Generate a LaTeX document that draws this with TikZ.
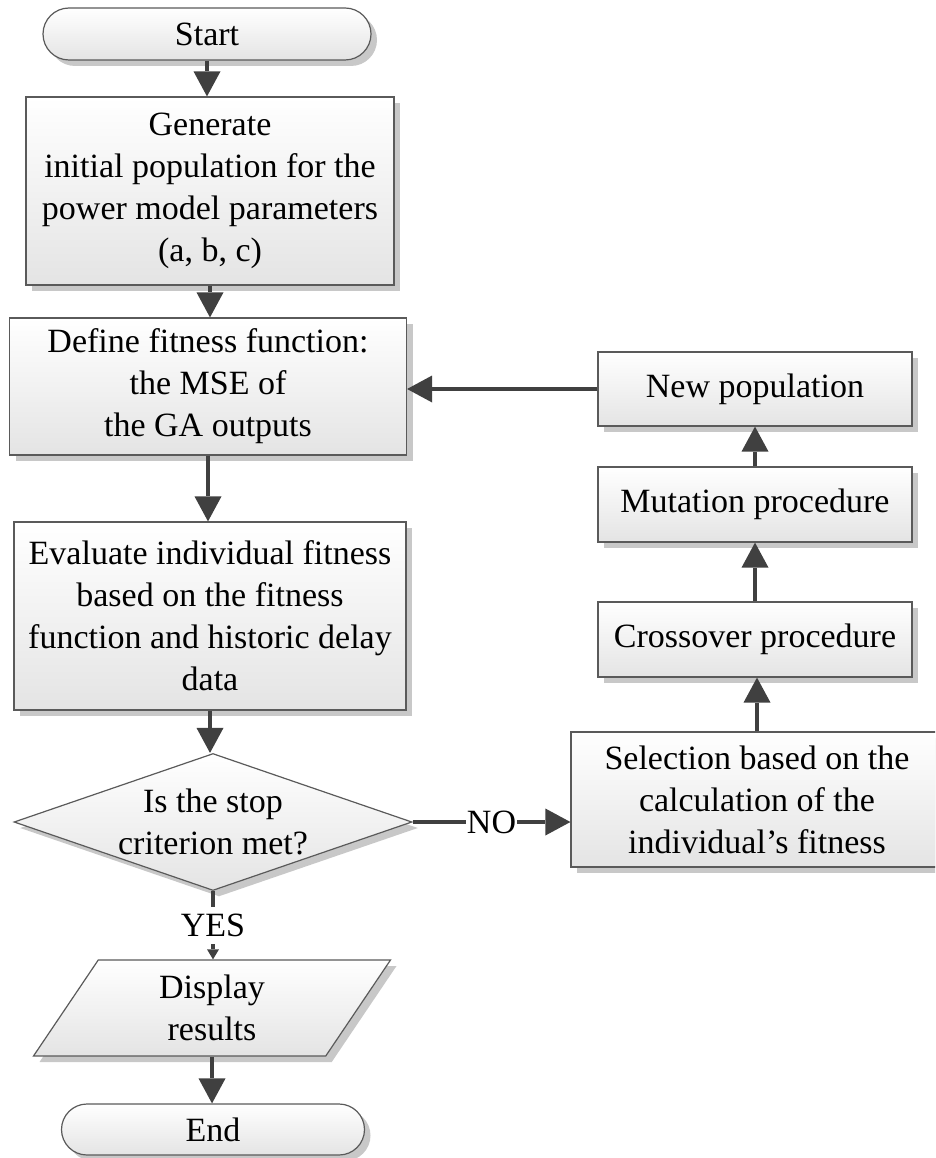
\documentclass[tikz,border=0pt]{standalone}
\usepackage{fontspec}
\setmainfont{Liberation Serif}
\usetikzlibrary{arrows.meta,shapes.geometric,shapes.misc,shadows}

\definecolor{edgegray}{HTML}{5A5A5A}
\definecolor{arrowgray}{HTML}{404040}
\definecolor{shadegray}{HTML}{E4E4E4}
\definecolor{shadowgray}{HTML}{C8C8C8}

\tikzset{
    base/.style={
        draw=edgegray,
        line width=1.2pt,
        top color=white,
        bottom color=shadegray,
        drop shadow={shadow xshift=6pt, shadow yshift=-6pt, fill=shadowgray, opacity=1},
        align=center,
        inner sep=3pt
    },
    process/.style={base, rectangle},
    terminal/.style={base, rounded rectangle, minimum height=52pt},
    decision/.style={base, diamond, aspect=2.9, inner sep=0pt},
    inout/.style={
        base,
        trapezium,
        trapezium left angle=48,
        trapezium right angle=132,
        trapezium stretches body
    },
    flow/.style={
        draw=arrowgray,
        line width=4.5pt,
        -{Triangle[length=25pt, width=27pt, line width=0pt]}
    },
    flowsmall/.style={
        draw=arrowgray,
        line width=4.5pt,
        -{Triangle[length=10pt, width=12pt, line width=0pt]}
    },
    answer/.style={fill=white, inner xsep=1pt, inner ysep=1pt},
    answerv/.style={fill=white, inner xsep=1pt, inner ysep=7pt}
}

\begin{document}
\begin{tikzpicture}[x=1pt, y=-1pt, font=\fontsize{34}{42}\selectfont]

\useasboundingbox (0,0) rectangle (935,1158);
\clip (0,0) rectangle (935,1158);

% Main column
\node[terminal, minimum width=334pt] (start) at (207,34) {Start};

\node[
    process,
    minimum width=368pt,
    minimum height=188pt
] (gen) at (210,191) {Generate\\initial population for the\\power model parameters\\(a, b, c)};

\node[
    process,
    minimum width=397pt,
    minimum height=137pt
] (def) at (208,386.5) {Define fitness function:\\the MSE of\\the GA outputs};

\node[
    process,
    minimum width=392pt,
    minimum height=188pt
] (eval) at (210,616) {Evaluate individual fitness\\based on the fitness\\function and historic delay\\data};

\node[
    decision,
    minimum width=398pt,
    minimum height=137pt
] (stop) at (213,822) {Is the stop\\criterion met?};

\node[
    inout,
    minimum width=357pt,
    minimum height=96pt
] (disp) at (212,1008) {Display\\results};

\node[terminal, minimum width=309pt, minimum height=51pt] (end) at (213,1129.5) {End};

% Loop column
\node[process, minimum width=314pt, minimum height=74pt] (newpop) at (755,389) {New population};
\node[process, minimum width=314pt, minimum height=75pt] (mut) at (755,504.5) {Mutation procedure};
\node[process, minimum width=314pt, minimum height=75pt] (cross) at (755,639.5) {Crossover procedure};

\node[
    process,
    minimum width=372pt,
    minimum height=135pt
] (sel) at (757,799.5) {Selection based on the\\calculation of the\\individual's fitness};

% Downward flow
\draw[flow] (start.south) -- (start.south |- gen.north);
\draw[flow] (gen.south) -- (gen.south |- def.north);
\draw[flow] (def.south) -- (def.south |- eval.north);
\draw[flow] (eval.south) -- (eval.south |- stop.north);
\draw[flowsmall] (stop.south) -- node[answerv] {YES} (stop.south |- disp.north);
\draw[flow] (disp.south) -- (disp.south |- end.north);

% Loop back
\draw[flow] (stop.east) -- node[answer] {NO} (stop.east -| sel.west);
\draw[flow] (sel.north) -- (sel.north |- cross.south);
\draw[flow] (cross.north) -- (cross.north |- mut.south);
\draw[flow] (mut.north) -- (mut.north |- newpop.south);
\draw[flow] (newpop.west) -- (newpop.west -| def.east);

\end{tikzpicture}
\end{document}
